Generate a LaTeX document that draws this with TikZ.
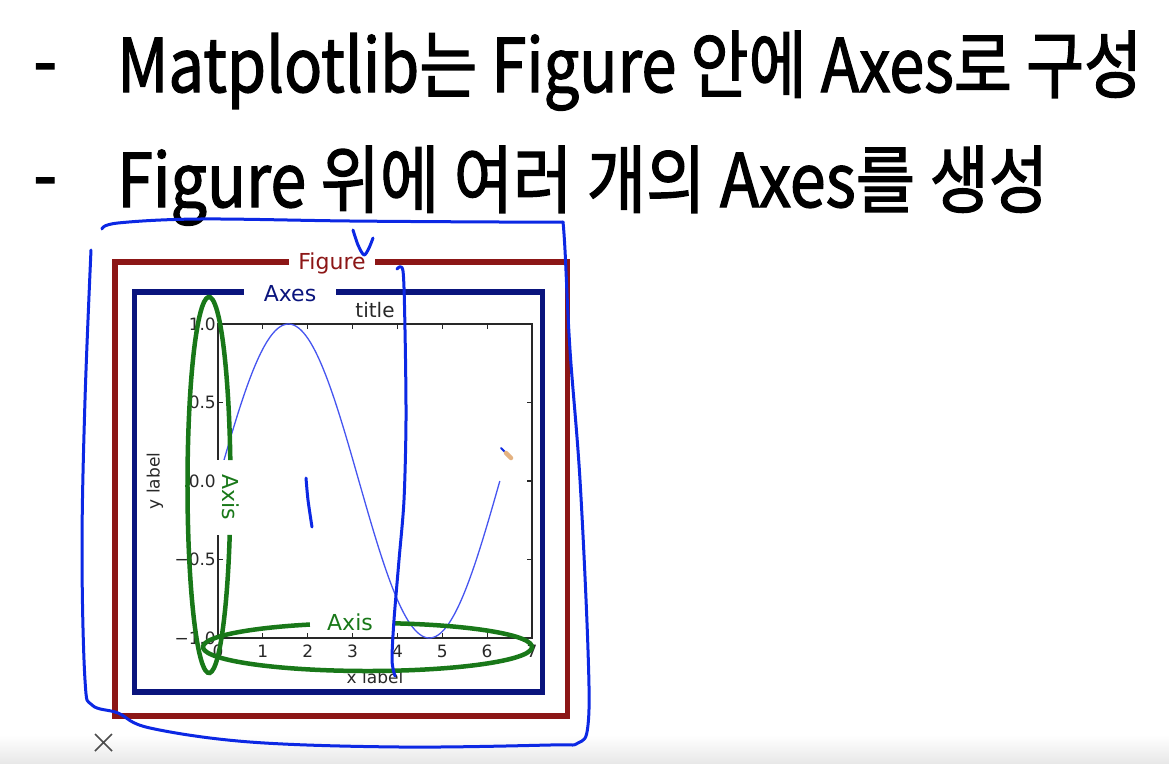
\documentclass[tikz,border=0pt]{standalone}
\usepackage{fontspec}
\usepackage{graphicx}
\setmainfont{DejaVu Sans}
\newfontfamily\kr[FakeBold=1.8]{Noto Sans CJK KR}
\newfontfamily\dv{DejaVu Sans}
\definecolor{figred}{RGB}{140,22,22}
\definecolor{axnavy}{RGB}{10,20,125}
\definecolor{axgreen}{RGB}{25,120,25}
\definecolor{inkblue}{RGB}{12,40,228}
\definecolor{curveblue}{RGB}{70,85,240}
\definecolor{tickgray}{RGB}{40,40,40}
\begin{document}
\begin{tikzpicture}[x=1pt,y=-1pt,
  heading/.style={anchor=base west, inner sep=0pt, font=\kr\fontsize{74}{80}\selectfont},
  boxlabel/.style={anchor=base, fill=white, inner ysep=2pt, font=\dv\fontsize{22}{24}\selectfont},
  ticklbl/.style={inner sep=0pt, text=tickgray, font=\dv\fontsize{17}{19}\selectfont},
  axislbl/.style={inner sep=0pt, text=axgreen, font=\dv\fontsize{22}{24}\selectfont},
  greenring/.style={draw=axgreen, line width=4.5pt},
  inkstroke/.style={draw=inkblue, line width=3pt, line cap=round, line join=round},
  spine/.style={draw=tickgray, line width=1.4pt},
  tickmark/.style={draw=tickgray, line width=1.2pt}]
\useasboundingbox (0,0) rectangle (1169,763);
\fill[white] (0,0) rectangle (1169,763);
\shade[top color=white, bottom color=black!9] (0,735) rectangle (1169,763);

% headings
\node[heading] (d1) at (33,87) {\resizebox{24pt}{\height}{-}};
\node[heading] (l1) at (117,92) {\resizebox{1025pt}{\height}{Matplotlib는 Figure 안에 Axes로 구성}};
\node[heading] (d2) at (33,201) {\resizebox{24pt}{\height}{-}};
\node[heading] (l2) at (117,207) {\resizebox{931pt}{\height}{Figure 위에 여러 개의 Axes를 생성}};

% Figure and Axes frames
\draw[figred, line width=5.5pt] (115,262) rectangle (567.5,716);
\node[boxlabel, text=figred, inner xsep=9pt] (figlbl) at (332,269) {Figure};
\draw[axnavy, line width=5.5pt] (134.5,292) rectangle (542.5,692);
\node[boxlabel, text=axnavy, inner xsep=20pt] (axeslbl) at (290,301) {Axes};

% plot
\draw[spine] (218,324) rectangle (532,638);
\foreach \i in {1,...,6} {
  \draw[tickmark] ({218+44.857*\i},324) -- ++(0,5);
  \draw[tickmark] ({218+44.857*\i},638) -- ++(0,-5);
}
\foreach \yy in {402.5,481,559.5} {
  \draw[tickmark] (218,\yy) -- ++(5,0);
  \draw[tickmark] (532,\yy) -- ++(-5,0);
}
\draw[curveblue, line width=1.3pt] plot[domain=0:6.2832, samples=120, smooth] ({218+44.857*\x},{481-157*sin(\x r)});

\foreach \yy/\t [count=\k] in {324/1.0, 402.5/0.5, 481/0.0, 559.5/{−0.5}, 638/{−1.0}}
  \node[ticklbl, anchor=east] (yt\k) at (216,\yy) {\t};
\foreach \i in {0,...,7}
  \node[ticklbl, anchor=north] (xt\i) at ({218+44.857*\i},645) {\i};
\node[ticklbl, anchor=base, font=\dv\fontsize{20}{22}\selectfont] (ttl) at (375,317) {title};
\node[ticklbl] (xlbl) at (375,677) {x label};
\node[ticklbl, rotate=90] (ylbl) at (155,481) {y label};

% Axis highlights
\fill[white] (217,460) rectangle (244,535);
\draw[greenring] ([shift={(15.4:21.5 and 188)}]209,485) arc[start angle=15.4, end angle=352.4, x radius=21.5, y radius=188];
\node[axislbl, rotate=-90] (yaxislbl) at (231,497) {Axis};
\draw[greenring] ([shift={(278.9:164.5 and 24)}]367.5,647) arc[start angle=278.9, end angle=609.5, x radius=164.5, y radius=24];
\node[axislbl, anchor=base] (xaxislbl) at (350,630) {Axis};

% hand-drawn ink
\draw[inkstroke] plot[smooth, tension=0.6] coordinates {(102,229) (118,223) (200,219) (350,221) (500,222) (563,222)};
\draw[inkstroke] plot[smooth, tension=0.6] coordinates {(91,250) (85,400) (82,550) (85,680) (92,705) (118,713) (150,728) (250,742) (400,747) (550,745) (578,743) (588,725) (588,650) (580,480) (570,350) (565,250) (563,222)};
\draw[inkstroke] plot[smooth, tension=0.5] coordinates {(353,230) (358,245) (364,255) (369,248) (373,238)};
\draw[inkstroke] plot[smooth, tension=0.5] coordinates {(397,269) (403,271) (405,330) (406,420) (404,500) (399,560) (394,620) (392,660) (395,676)};
\draw[inkstroke] plot[smooth, tension=0.5] coordinates {(306,478) (308,500) (312,527)};

% pencil cursor
\draw[inkblue, line width=2pt, line cap=round] (501,448) -- (505,452);
\draw[brown!70!orange!60!white, line width=4.5pt, line cap=round] (506,453) -- (511,458);

% close mark
\draw[black!70, line width=1.5pt] (95,734) -- (112,751) (95,751) -- (112,734);
\end{tikzpicture}
\end{document}
